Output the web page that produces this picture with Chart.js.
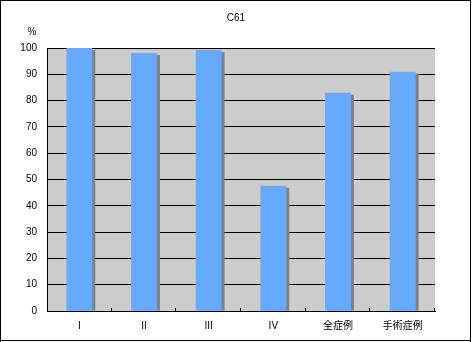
<!DOCTYPE html>
<html>
<head>
<meta charset="utf-8">
<script src="https://cdn.jsdelivr.net/npm/chart.js@4/dist/chart.umd.min.js"></script>
<style>
  body { margin: 0; background: #fff; }
  canvas { display: block; }
</style>
</head>
<body>
<canvas id="myChart" width="472" height="342"></canvas>
<script>
var categories = ["I", "II", "III", "IV", "全症例", "手術症例"];
var values = [100, 98.1, 99.2, 47.6, 83, 91];
var yTicks = [0, 10, 20, 30, 40, 50, 60, 70, 80, 90, 100];
var chartTitle = "C61";
var unitLabel = "%";

var FONT = "'Liberation Sans', 'Noto Sans CJK JP', sans-serif";

// plot background, bar shadows, inner x ticks, title, unit and outer frame
var decor = {
  id: "decor",
  beforeDraw: function(chart) {
    var ctx = chart.ctx, a = chart.chartArea;
    ctx.save();
    ctx.fillStyle = "#fff";
    ctx.fillRect(0, 0, chart.width, chart.height);
    ctx.fillStyle = "#cccccc";
    ctx.fillRect(a.left, a.top, a.right - a.left, a.bottom - a.top);
    ctx.restore();
  },
  beforeDatasetsDraw: function(chart) {
    var ctx = chart.ctx;
    var meta = chart.getDatasetMeta(0);
    ctx.save();
    ctx.fillStyle = "#808080";
    meta.data.forEach(function(bar) {
      var left = bar.x - bar.width / 2;
      ctx.fillRect(left + 3, bar.y + 2, bar.width, bar.base - bar.y - 2);
    });
    ctx.restore();
  },
  afterDraw: function(chart) {
    var ctx = chart.ctx, x = chart.scales.x, a = chart.chartArea;
    ctx.save();
    ctx.fillStyle = "#000";
    // tick marks between categories, pointing up into the plot
    var n = categories.length;
    var step = (x.right - x.left) / n;
    for (var i = 1; i <= n; i++) {
      var px = Math.round(x.left + i * step);
      ctx.fillRect(px - 1, a.bottom - 3, 1, 3);
    }
    ctx.font = "10px " + FONT;
    ctx.textAlign = "center";
    ctx.textBaseline = "middle";
    ctx.fillText(chartTitle, 236, 18);
    ctx.fillText(unitLabel, 32, 32);
    ctx.fillRect(0, 0, 471, 1);
    ctx.fillRect(0, 0, 1, 342);
    ctx.fillRect(470, 0, 1, 342);
    ctx.fillRect(0, 340, 471, 1);
    ctx.restore();
  }
};

new Chart("myChart", {
  type: "bar",
  data: {
    labels: categories,
    datasets: [{
      data: values,
      backgroundColor: "#66aaff",
      borderWidth: 0,
      barPercentage: 0.4,
      categoryPercentage: 1.0
    }]
  },
  options: {
    responsive: false,
    animation: false,
    devicePixelRatio: 1,
    layout: { padding: { top: 48, right: 37, left: 0, bottom: 0 } },
    plugins: { legend: { display: false }, title: { display: false }, tooltip: { enabled: false } },
    scales: {
      x: {
        grid: { drawOnChartArea: false, drawTicks: false },
        border: { color: "#000", width: 1 },
        ticks: { color: "#000", font: { size: 10, family: FONT }, padding: 9, maxRotation: 0 },
        afterFit: function(s) { s.height = 31; }
      },
      y: {
        min: 0,
        max: 100,
        afterBuildTicks: function(s) { s.ticks = yTicks.map(function(v) { return { value: v }; }); },
        grid: { color: "#000", lineWidth: 1, drawTicks: false },
        border: { color: "#000", width: 1 },
        ticks: { color: "#000", font: { size: 10, family: FONT }, padding: 10 },
        afterFit: function(s) { s.width = 47; }
      }
    }
  },
  plugins: [decor]
});
</script>
</body>
</html>
